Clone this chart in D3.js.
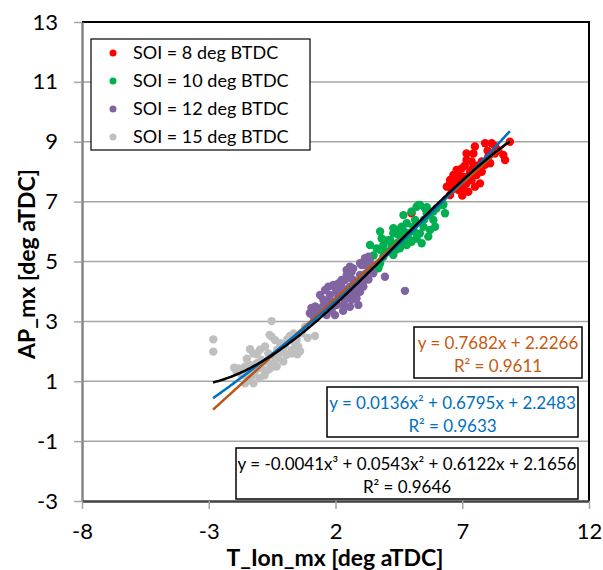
<!DOCTYPE html>
<html>
<head>
<meta charset="utf-8">
<script src="https://cdn.jsdelivr.net/npm/d3@7"></script>
<style>
  body { margin: 0; background: #fff; }
  svg text { font-family: Lato, "Noto Sans", sans-serif; }
</style>
</head>
<body>
<div id="chart"></div>
<script>
// series: [T_Ion_mx, AP_mx]
var soi8 = [[7.17,8.61],[7.50,8.84],[7.90,8.95],[8.16,8.95],[8.69,8.39],[8.88,9.00],[8.62,8.56],[8.29,8.61],
  [8.03,8.50],[7.77,8.34],[7.57,8.17],[7.37,8.34],[7.31,8.00],[6.98,8.11],[6.78,8.06],[6.65,7.89],[6.52,7.72],
  [6.71,7.61],[6.39,7.50],[6.52,7.22],[6.85,7.39],[7.04,7.45],[7.17,7.61],[7.37,7.72],[7.57,7.89],[7.77,8.00],
  [7.90,8.23],[8.10,8.28],[7.70,7.61],[7.24,7.33],[6.91,7.72],[6.85,7.89],[7.44,8.61],[7.17,8.39],[7.50,7.50],
  [6.58,7.39],[8.42,8.72],[7.04,7.83],[6.71,7.83],[5.00,6.61],[6.52,7.61],[4.47,0.34],
  [6.90,7.60],[7.30,7.90],[7.60,8.20],[7.00,7.20],[7.40,8.10],[8.00,8.70],[6.60,7.60],[7.10,8.20],[8.30,8.85]];
var soi10 = [[3.76,6.00],[3.82,5.77],[3.36,5.55],[3.76,5.39],[3.89,5.16],[4.28,5.22],[4.22,5.50],[4.15,5.72],
  [4.28,5.94],[4.48,6.05],[4.61,6.16],[4.68,6.55],[5.00,6.67],[5.14,6.39],[5.20,6.83],[5.33,6.89],[5.53,6.78],
  [5.60,6.61],[5.86,6.67],[5.99,6.78],[6.25,6.89],[6.32,6.61],[5.86,6.39],[5.93,6.16],[5.73,6.05],[5.47,6.16],
  [5.33,5.94],[5.20,5.77],[5.00,5.66],[4.81,5.55],[4.61,5.66],[4.48,5.89],[4.87,5.94],[4.81,6.28],[5.07,6.16],
  [5.66,5.83],[5.40,5.61],[4.54,5.44],[4.02,5.33],[3.69,4.77],[3.76,4.94],[3.89,5.55],[4.28,6.11],[4.54,5.89],
  [4.41,5.61],[4.08,5.33],[3.62,5.44],[3.69,4.83],[5.27,6.89],[6.25,6.92],[5.60,6.81],
  [4.40,5.40],[4.90,5.75],[5.10,6.00],[5.50,6.40],[4.00,5.70],[3.50,5.20],[5.70,6.55],[4.70,6.00]];
var soi12 = [[0.99,3.27],[1.19,3.33],[1.39,3.38],[1.13,3.16],[1.98,3.21],[1.85,3.38],[1.72,3.55],[1.52,3.72],
  [1.39,3.88],[1.59,4.05],[1.72,4.16],[1.91,4.22],[2.11,4.27],[2.24,4.16],[2.44,4.05],[2.57,3.99],[2.70,3.88],
  [2.83,3.77],[2.90,3.55],[2.64,3.72],[2.37,3.72],[2.11,3.83],[2.05,3.99],[1.78,3.88],[2.24,4.38],[2.44,4.55],
  [2.64,4.66],[2.57,4.83],[2.97,4.55],[3.10,4.33],[3.10,4.16],[2.97,3.99],[2.77,4.22],[3.16,5.11],[3.30,5.16],
  [3.36,4.99],[3.03,4.88],[3.49,4.61],[3.95,4.49],[4.74,4.02],[2.83,4.10],[2.05,3.55],[2.31,3.55],[2.57,3.49],
  [1.65,3.21],[2.44,4.72],[2.70,4.77],[2.97,4.94],[3.16,4.88],[3.36,4.72],[2.37,4.38],[2.70,4.38],[2.97,4.27],
  [2.57,4.16],[1.50,3.50],[1.80,3.70],[2.20,4.00],[2.50,3.90],[2.90,4.30],[1.20,3.50],[2.00,4.10],[2.60,4.45],
  [3.20,4.60],[2.30,3.35],[1.05,3.45],[3.30,4.40]];
var soi15 = [[-2.82,2.40],[-2.82,1.99],[-0.52,3.01],[1.19,2.51],[-1.37,2.07],[-1.24,1.93],[-0.98,2.05],[-0.78,2.16],
  [-0.52,2.49],[-0.39,2.38],[-0.19,2.27],[-0.06,2.04],[0.20,2.51],[0.40,2.27],[0.53,2.16],[0.27,2.04],[0.07,1.88],
  [-0.26,1.77],[-0.45,1.60],[-0.72,1.66],[-0.91,1.71],[-1.11,1.60],[-1.37,1.54],[-1.57,1.49],[-1.83,1.43],
  [-1.90,1.32],[-1.70,1.21],[-1.44,1.04],[-1.31,1.16],[-1.18,1.32],[-0.91,1.43],[-0.65,1.38],[-0.32,1.49],
  [-0.06,1.66],[0.27,1.93],[0.47,2.38],[0.66,2.60],[0.80,2.82],[-1.57,0.93],[-1.24,0.93],[-0.39,1.82],
  [-0.65,1.93],[0.01,2.21],[-1.44,1.38],[-1.60,1.20],[-1.00,1.10],[-0.80,1.20],[-1.10,1.90],[-0.30,2.05],
  [0.10,2.40],[0.50,1.90],[0.35,2.60],[-0.55,1.45],[-0.20,1.95],[-2.00,1.45],[-0.60,2.55],[0.90,2.45],
  [-1.50,1.75],[0.60,2.00]];

var seriesNames = ["SOI = 8 deg BTDC", "SOI = 10 deg BTDC", "SOI = 12 deg BTDC", "SOI = 15 deg BTDC"];
var seriesColors = ["#ff0000", "#00b050", "#8064a2", "#bfbfbf"];

// trendline coefficients, highest power first
var linCoef = [0.7682, 2.2266];
var quadCoef = [0.0136, 0.6795, 2.2483];
var cubCoef = [-0.0041, 0.0543, 0.6122, 2.1656];
var fitRange = [-2.83, 8.88];

var xTicks = [-8, -3, 2, 7, 12];
var yTicks = [-3, -1, 1, 3, 5, 7, 9, 11, 13];

var width = 603, height = 570;
var margin = {top: 22, right: 14, bottom: 69, left: 82};

var svg = d3.select("#chart").append("svg")
    .attr("width", width)
    .attr("height", height);

var x = d3.scaleLinear().domain([-8, 12]).range([margin.left, width - margin.right]);
var y = d3.scaleLinear().domain([-3, 13]).range([height - margin.bottom, margin.top]);

// grid
svg.append("g")
  .selectAll("line")
  .data(yTicks.slice(1, -1))
  .join("line")
    .attr("x1", x(-8)).attr("x2", x(12))
    .attr("y1", d => y(d)).attr("y2", d => y(d))
    .attr("stroke", "#a6a6a6").attr("stroke-width", 1.5);

// plot frame (top / right)
svg.append("path")
    .attr("d", `M${x(-8)},${y(13)}H${x(12)}V${y(-3)}`)
    .attr("fill", "none").attr("stroke", "#000").attr("stroke-width", 2);

// axes
var yAxis = svg.append("g")
    .attr("transform", `translate(${x(-8)},0)`)
    .call(d3.axisLeft(y).tickValues(yTicks).tickFormat(d => String(d))
      .tickSize(8).tickSizeOuter(0).tickPadding(16));
var xAxis = svg.append("g")
    .attr("transform", `translate(0,${y(-3)})`)
    .call(d3.axisBottom(x).tickValues(xTicks).tickFormat(d => String(d))
      .tickSize(8).tickSizeOuter(0).tickPadding(14));

yAxis.select(".domain").attr("stroke", "#868686").attr("stroke-width", 2.5);
xAxis.select(".domain").attr("stroke", "#404040").attr("stroke-width", 2.5);
svg.selectAll(".tick line").attr("stroke", "#a6a6a6").attr("stroke-width", 1.5);
svg.selectAll(".tick text").attr("font-size", 22).attr("fill", "#000")
    .style("font-family", "Lato, sans-serif");

// points
var groups = [soi8, soi10, soi12, soi15];
groups.forEach(function(pts, i) {
  svg.append("g")
    .selectAll("circle")
    .data(pts)
    .join("circle")
      .attr("cx", d => x(d[0]))
      .attr("cy", d => y(d[1]))
      .attr("r", 4.2)
      .attr("fill", seriesColors[i]);
});

// trendlines
function poly(c) {
  return function(v) { return c.reduce((acc, k) => acc * v + k, 0); };
}
var xs = d3.range(0, 201).map(i => fitRange[0] + (fitRange[1] - fitRange[0]) * i / 200);
var line = d3.line().x(d => x(d[0])).y(d => y(d[1]));
[[linCoef, "#b9561a"], [quadCoef, "#0070c0"], [cubCoef, "#000"]].forEach(function(t) {
  var f = poly(t[0]);
  svg.append("path")
    .datum(xs.map(v => [v, f(v)]))
    .attr("d", line)
    .attr("fill", "none")
    .attr("stroke", t[1])
    .attr("stroke-width", 2.5);
});

// equation boxes
var eqBoxes = [
  {x0: 414, y0: 327, w: 168, h: 51, color: "#c55a11",
   lines: ["y = 0.7682x + 2.2266", "R² = 0.9611"]},
  {x0: 327, y0: 387, w: 251, h: 50, color: "#0070c0",
   lines: ["y = 0.0136x² + 0.6795x + 2.2483", "R² = 0.9633"]},
  {x0: 236, y0: 448, w: 342, h: 51, color: "#000",
   lines: ["y = -0.0041x³ + 0.0543x² + 0.6122x + 2.1656", "R² = 0.9646"]}
];
eqBoxes.forEach(function(b) {
  var g = svg.append("g");
  g.append("rect")
    .attr("x", b.x0).attr("y", b.y0).attr("width", b.w).attr("height", b.h)
    .attr("fill", "#fff").attr("stroke", "#000").attr("stroke-width", 1.5);
  g.selectAll("text")
    .data(b.lines)
    .join("text")
      .attr("x", b.x0 + b.w / 2)
      .attr("y", (d, i) => b.y0 + 22 + i * 23)
      .attr("text-anchor", "middle")
      .attr("font-size", 17)
      .attr("fill", b.color)
      .text(d => d);
});

// legend
var legend = svg.append("g");
legend.append("rect")
    .attr("x", 91).attr("y", 39).attr("width", 219).attr("height", 111)
    .attr("fill", "#fff").attr("stroke", "#000").attr("stroke-width", 1.2);
var item = legend.selectAll("g.item")
  .data(seriesNames)
  .join("g")
    .attr("transform", (d, i) => `translate(113,${53 + i * 28})`);
item.append("circle").attr("r", 3.5).attr("fill", (d, i) => seriesColors[i]);
item.append("text")
    .attr("x", 20).attr("dy", "0.35em")
    .attr("font-size", 18)
    .text(d => d);

// axis titles
svg.append("text")
    .attr("x", 335).attr("y", 566)
    .attr("text-anchor", "middle")
    .attr("font-size", 23).attr("font-weight", "bold")
    .text("T_Ion_mx [deg aTDC]");
svg.append("text")
    .attr("transform", "translate(35,264) rotate(-90)")
    .attr("text-anchor", "middle")
    .attr("font-size", 23).attr("font-weight", "bold")
    .text("AP_mx [deg aTDC]");
</script>
</body>
</html>
